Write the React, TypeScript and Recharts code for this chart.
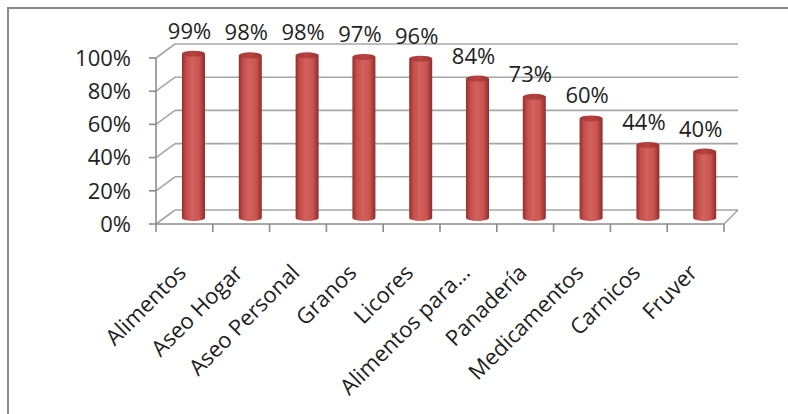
import { BarChart, Bar, XAxis, YAxis, CartesianGrid, LabelList } from 'recharts';

const categories = [
  'Alimentos',
  'Aseo Hogar',
  'Aseo Personal',
  'Granos',
  'Licores',
  'Alimentos para...',
  'Panadería',
  'Medicamentos',
  'Carnicos',
  'Fruver',
];
const values = [0.99, 0.98, 0.98, 0.97, 0.96, 0.84, 0.73, 0.6, 0.44, 0.4];
const yTicks = [0, 0.2, 0.4, 0.6, 0.8, 1];

const data = categories.map((name, i) => ({ name, value: values[i] }));

// layout of the front plane (the 3d box goes back by WALL_DX / WALL_DY)
const W = 788;
const H = 414;
const PLOT_LEFT = 156;
const PLOT_RIGHT = 724;
const PLOT_TOP = 58;
const PLOT_BOTTOM = 224;
const PLOT_W = PLOT_RIGHT - PLOT_LEFT;
const WALL_DX = 19;
const WALL_DY = -14;
const BAR_DX = 9;
const BAR_DY = -6;

const FONT = '"Open Sans", "Noto Sans", sans-serif';
const GRID = '#a6a6a6';
const AXIS = '#8c8c8c';

const pct = (v: number) => `${Math.round(v * 100)}%`;

const Cylinder = (props: any) => {
  const { x, y, width, height } = props;
  const cx = x + width / 2 + BAR_DX;
  const top = y + BAR_DY;
  const bottom = y + height + BAR_DY;
  const rx = width / 2;
  const ry = 3;
  const l = cx - rx;
  const r = cx + rx;
  return (
    <g>
      <path
        d={`M${l},${top} L${l},${bottom} A${rx},${ry} 0 0 0 ${r},${bottom} L${r},${top} Z`}
        fill="url(#cylBody)"
      />
      <ellipse cx={cx} cy={top} rx={rx} ry={ry} fill="url(#cylTop)" />
    </g>
  );
};

const renderLabel = (props: any) => {
  const { x, y, width, value } = props;
  const cx = x + width / 2 + BAR_DX - 4;
  return (
    <text x={cx} y={y + BAR_DY - 15} textAnchor="middle" fontSize={22} fontFamily={FONT} fill="#1e1e1e">
      {pct(value)}
    </text>
  );
};

const gridLine = (p: any) => {
  const { x1, x2, y1, y, height } = p;
  const isFloor = Math.abs(y1 - (y + height)) < 0.5;
  return (
    <g key={p.key} stroke={GRID} strokeWidth={1.6}>
      <line x1={x1} y1={y1} x2={x1 + WALL_DX} y2={y1 + WALL_DY} />
      <line x1={x1 + WALL_DX} y1={y1 + WALL_DY} x2={x2 + 14} y2={y1 + WALL_DY} />
      {isFloor && <line x1={x2} y1={y1} x2={x2 + 14} y2={y1 + WALL_DY} />}
    </g>
  );
};

const XTick = (props: any) => {
  const { x, y, payload, index } = props;
  const band = PLOT_W / categories.length;
  const tx = x + 3;
  const ty = y + 50;
  return (
    <g>
      <line x1={x - band / 2} y1={y} x2={x - band / 2} y2={y + 8} stroke={AXIS} strokeWidth={1.6} />
      {index === categories.length - 1 && (
        <line x1={x + band / 2} y1={y} x2={x + band / 2} y2={y + 8} stroke={AXIS} strokeWidth={1.6} />
      )}
      <text
        x={tx}
        y={ty}
        transform={`rotate(-45, ${tx}, ${ty})`}
        textAnchor="end"
        fontSize={22}
        fontFamily={FONT}
        fill="#1e1e1e"
      >
        {payload.value}
      </text>
    </g>
  );
};

export default function App() {
  return (
    <div
      style={{
        position: 'absolute',
        left: 0,
        top: 0,
        width: W,
        height: H,
        overflow: 'hidden',
        background: '#fff',
      }}
    >
      <div
        style={{
          position: 'absolute',
          left: 7,
          top: 7,
          width: W + 50,
          height: H + 50,
          borderTop: '2px solid #8a8a8a',
          borderLeft: '2px solid #8a8a8a',
        }}
      />
      <div style={{ position: 'absolute', left: 0, top: 0 }}>
        <BarChart
          width={W}
          height={H}
          data={data}
          margin={{ top: PLOT_TOP, right: W - PLOT_RIGHT, left: PLOT_LEFT - 100, bottom: H - PLOT_BOTTOM - 100 }}
        >
          <defs>
            <linearGradient id="cylBody" x1="0" y1="0" x2="1" y2="0">
              <stop offset="0%" stopColor="#932f2c" />
              <stop offset="18%" stopColor="#c34d49" />
              <stop offset="45%" stopColor="#d3615d" />
              <stop offset="75%" stopColor="#cb544f" />
              <stop offset="100%" stopColor="#8d2c2a" />
            </linearGradient>
            <linearGradient id="cylTop" x1="0" y1="0" x2="1" y2="0">
              <stop offset="0%" stopColor="#a13a37" />
              <stop offset="50%" stopColor="#b8423f" />
              <stop offset="100%" stopColor="#9b3431" />
            </linearGradient>
          </defs>
          <CartesianGrid vertical={false} horizontal={gridLine} />
          <XAxis
            dataKey="name"
            height={100}
            interval={0}
            tickSize={0}
            tickMargin={0}
            tickLine={false}
            axisLine={{ stroke: AXIS, strokeWidth: 1.6 }}
            tick={<XTick />}
          />
          <YAxis
            width={100}
            domain={[0, 1]}
            ticks={yTicks}
            interval={0}
            tickFormatter={pct}
            tickSize={7}
            tickMargin={18}
            tickLine={{ stroke: AXIS, strokeWidth: 1.6 }}
            axisLine={{ stroke: AXIS, strokeWidth: 1.6 }}
            tick={{ fontSize: 22, fontFamily: FONT, fill: '#1e1e1e' }}
          />
          <Bar dataKey="value" barSize={23} shape={<Cylinder />} isAnimationActive={false}>
            <LabelList dataKey="value" content={renderLabel} />
          </Bar>
        </BarChart>
      </div>
    </div>
  );
}
